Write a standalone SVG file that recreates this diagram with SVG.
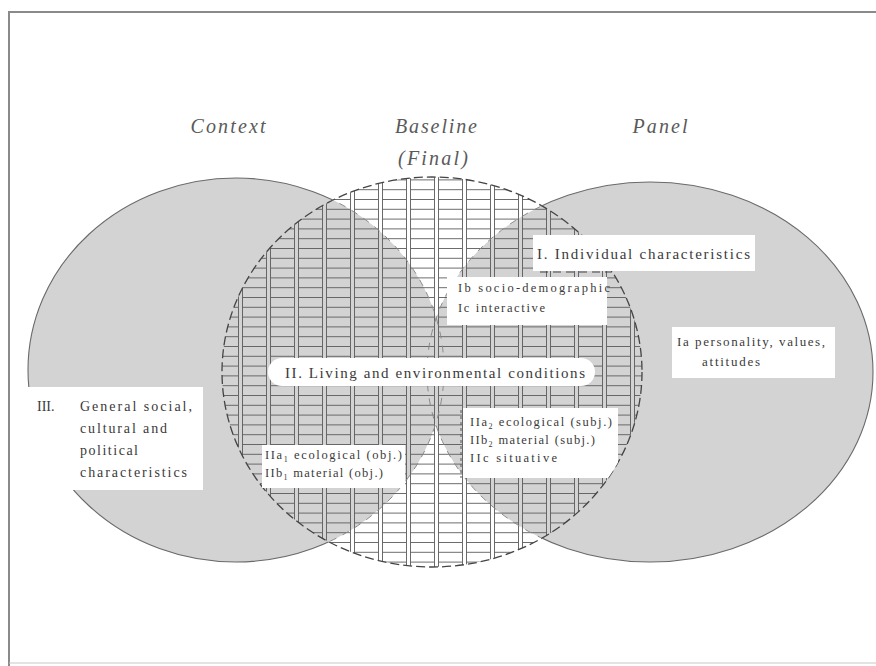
<svg xmlns="http://www.w3.org/2000/svg" width="876" height="666" viewBox="0 0 876 666">
<style>
.t{font-family:"Liberation Serif","Times New Roman",serif;fill:#3a3a3a}
.title{font-family:"Liberation Serif","Times New Roman",serif;font-style:italic;fill:#5a5a5a;font-size:20px}
.box{fill:#ffffff;stroke:none}
.gray{fill:#d3d3d3}
.edge{fill:none;stroke:#6a6a6a;stroke-width:1.1}
.inner{fill:none;stroke:#8a8a8a;stroke-width:1;stroke-dasharray:7 7}
.mid{fill:none;stroke:#444;stroke-width:1.3;stroke-dasharray:9 4}
</style>
<defs>
<pattern id="grid" patternUnits="userSpaceOnUse" x="14" y="3" width="28" height="9.8">
<path d="M0.5 0V9.8M4.5 0V9.8M4.5 0.5H28" fill="none" stroke="#5a5a5a" stroke-width="0.9"/>
</pattern>
<clipPath id="clipMid"><ellipse cx="432" cy="372" rx="210" ry="195"/></clipPath>
<clipPath id="clipOut"><path clip-rule="evenodd" d="M0 0H876V666H0Z M222 372a210 195 0 1 0 420 0a210 195 0 1 0-420 0Z"/></clipPath>
</defs>
<rect width="876" height="666" fill="#ffffff"/>
<g id="frame" fill="none" stroke="#8a8a8a">
<path d="M9 666V12H876" stroke-width="2"/>
<path d="M9 663H876" stroke-width="1" stroke="#c8c8c8"/>
</g>
<g id="context-circle">
<ellipse class="gray" cx="236" cy="370" rx="208" ry="192"/>
</g>
<g id="panel-circle">
<ellipse class="gray" cx="650" cy="372" rx="223" ry="190"/>
</g>
<g id="baseline-circle">
<rect x="200" y="170" width="460" height="405" fill="url(#grid)" clip-path="url(#clipMid)"/>
<ellipse class="mid" cx="432" cy="372" rx="210" ry="195"/>
</g>
<g id="outlines">
<g clip-path="url(#clipOut)">
<ellipse class="edge" cx="236" cy="370" rx="208" ry="192"/>
<ellipse class="edge" cx="650" cy="372" rx="223" ry="190"/>
</g>
<g clip-path="url(#clipMid)">
<ellipse class="inner" cx="236" cy="370" rx="208" ry="192"/>
<ellipse class="inner" cx="650" cy="372" rx="223" ry="190"/>
</g>
<path d="M540 272H612" fill="none" stroke="#444" stroke-width="1.2" stroke-dasharray="8 5"/>
</g>
<g id="node-I">
<rect class="box" x="533" y="235" width="222" height="36"/>
<text class="t" x="537" y="259" font-size="15" textLength="213" lengthAdjust="spacing">I.  Individual characteristics</text>
</g>
<g id="node-Ib-Ic">
<rect class="box" x="447" y="277" width="160" height="48"/>
<text class="t" x="458" y="292" font-size="12.5" textLength="152" lengthAdjust="spacing">Ib  socio-demographic</text>
<text class="t" x="458" y="312" font-size="12.5" textLength="87" lengthAdjust="spacing">Ic  interactive</text>
</g>
<g id="node-Ia">
<rect class="box" x="672" y="327" width="163" height="51"/>
<text class="t" x="677" y="346" font-size="13" textLength="148" lengthAdjust="spacing">Ia  personality, values,</text>
<text class="t" x="702" y="366" font-size="13" textLength="58" lengthAdjust="spacing">attitudes</text>
</g>
<g id="node-II">
<rect class="box" x="268" y="358" width="327" height="28" rx="14"/>
<text class="t" x="285" y="378" font-size="15" textLength="300" lengthAdjust="spacing">II.  Living and environmental conditions</text>
</g>
<g id="node-II-subj">
<rect class="box" x="463" y="408" width="155" height="70" clip-path="url(#clipMid)"/>
<path d="M461 410V478" fill="none" stroke="#555" stroke-width="1" stroke-dasharray="3 3"/>
<text class="t" x="470" y="426" font-size="12.5" textLength="142" lengthAdjust="spacing">IIa<tspan font-size="8" dy="3">2</tspan><tspan dy="-3"> ecological (subj.)</tspan></text>
<text class="t" x="470" y="444" font-size="12.5" textLength="125" lengthAdjust="spacing">IIb<tspan font-size="8" dy="3">2</tspan><tspan dy="-3"> material (subj.)</tspan></text>
<text class="t" x="470" y="462" font-size="12.5" textLength="87" lengthAdjust="spacing">IIc    situative</text>
</g>
<g id="node-II-obj">
<rect class="box" x="262" y="445" width="143" height="43"/>
<text class="t" x="265" y="459" font-size="12.5" textLength="137" lengthAdjust="spacing">IIa<tspan font-size="8" dy="3">1</tspan><tspan dy="-3">  ecological (obj.)</tspan></text>
<text class="t" x="265" y="477" font-size="12.5" textLength="118" lengthAdjust="spacing">IIb<tspan font-size="8" dy="3">1</tspan><tspan dy="-3">  material (obj.)</tspan></text>
</g>
<g id="node-III">
<rect class="box" x="26" y="387" width="177" height="103"/>
<text class="t" x="37" y="411" font-size="14">III.</text>
<text class="t" x="80" y="411" font-size="14" textLength="112" lengthAdjust="spacing">General social,</text>
<text class="t" x="80" y="433" font-size="14" textLength="87" lengthAdjust="spacing">cultural and</text>
<text class="t" x="80" y="455" font-size="14" textLength="58" lengthAdjust="spacing">political</text>
<text class="t" x="80" y="477" font-size="14" textLength="107" lengthAdjust="spacing">characteristics</text>
</g>
<g id="titles">
<text class="title" x="228" y="133" text-anchor="middle" textLength="75" lengthAdjust="spacing">Context</text>
<text class="title" x="436" y="133" text-anchor="middle" textLength="82" lengthAdjust="spacing">Baseline</text>
<text class="title" x="433" y="165" text-anchor="middle" textLength="70" lengthAdjust="spacing">(Final)</text>
<text class="title" x="660" y="133" text-anchor="middle" textLength="55" lengthAdjust="spacing">Panel</text>
</g>
</svg>
